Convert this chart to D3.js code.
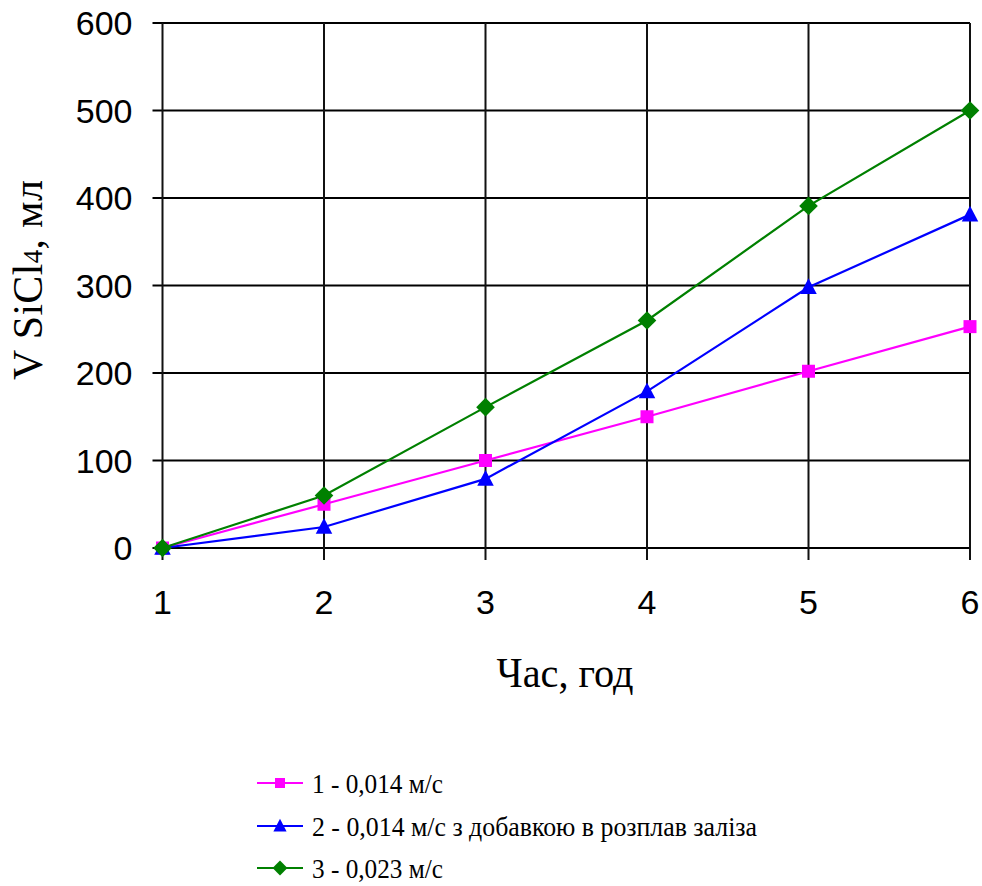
<!DOCTYPE html>
<html><head><meta charset="utf-8">
<script src="https://cdn.jsdelivr.net/npm/d3@7"></script>
<style>body{margin:0;background:#fff}svg{display:block}</style>
</head><body>
<script>
const hours = [1, 2, 3, 4, 5, 6];
const yTicks = [0, 100, 200, 300, 400, 500, 600];
const series1 = [0, 50, 100, 150, 202, 253];
const series2 = [0, 24, 79, 179, 298, 381];
const series3 = [0, 60, 161, 260, 391, 500];
const seriesNames = ["1 - 0,014 м/с", "2 - 0,014 м/с з добавкою в розплав заліза", "3 - 0,023 м/с"];
const seriesColors = ["#FF00FF", "#0000FF", "#008000"];
const seriesMarkers = ["square", "triangle", "diamond"];

const W = 982, H = 886;
const svg = d3.select("body").append("svg").attr("width", W).attr("height", H);
const x = d3.scaleLinear().domain([1, 6]).range([162.5, 970]);
const y = d3.scaleLinear().domain([0, 600]).range([548, 23]);

const g = svg.append("g");
// horizontal grid
g.selectAll(".hg").data(yTicks).enter().append("line")
  .attr("x1", x(1) - 10).attr("x2", x(6)).attr("y1", d => y(d)).attr("y2", d => y(d))
  .attr("stroke", "#000").attr("stroke-width", 2);
// vertical grid
g.selectAll(".vg").data(hours).enter().append("line")
  .attr("x1", d => x(d)).attr("x2", d => x(d)).attr("y1", y(600)).attr("y2", y(0) + 12)
  .attr("stroke", "#111").attr("stroke-width", 2);

// tick labels
g.selectAll(".yl").data(yTicks).enter().append("text")
  .attr("x", x(1) - 30).attr("y", d => y(d)).attr("dy", "0.36em")
  .attr("text-anchor", "end").attr("font-family", "Liberation Sans, Arial, sans-serif")
  .attr("font-size", 34).text(d => d);
g.selectAll(".xl").data(hours).enter().append("text")
  .attr("x", d => x(d)).attr("y", 614)
  .attr("text-anchor", "middle").attr("font-family", "Liberation Sans, Arial, sans-serif")
  .attr("font-size", 34).text(d => d);

// axis titles
svg.append("text").attr("x", 565).attr("y", 687).attr("text-anchor", "middle")
  .attr("font-family", "Liberation Serif, Times New Roman, serif").attr("font-size", 43)
  .attr("textLength", 137).attr("lengthAdjust", "spacingAndGlyphs")
  .text("Час, год");
const yt = svg.append("text").attr("transform", "translate(42,280) rotate(-90)")
  .attr("text-anchor", "middle")
  .attr("font-family", "Liberation Serif, Times New Roman, serif").attr("font-size", 42)
  .attr("textLength", 200).attr("lengthAdjust", "spacing");
yt.append("tspan").text("V SiCl");
yt.append("tspan").attr("font-size", 27).text("4");
yt.append("tspan").text(", мл");

// markers
function marker(sel, type, size, color) {
  const s = size;
  if (type === "square") {
    sel.append("rect").attr("x", -s/2).attr("y", -s/2).attr("width", s).attr("height", s).attr("fill", color);
  } else if (type === "triangle") {
    sel.append("path").attr("d", `M0,${-s*0.6}L${s*0.55},${s*0.45}L${-s*0.55},${s*0.45}Z`).attr("fill", color);
  } else {
    sel.append("path").attr("d", `M0,${-s*0.62}L${s*0.62},0L0,${s*0.62}L${-s*0.62},0Z`).attr("fill", color);
  }
}

const allSeries = [series1, series2, series3];
const line = d3.line().x((d, i) => x(hours[i])).y(d => y(d));
allSeries.forEach((vals, k) => {
  svg.append("path").datum(vals).attr("d", line).attr("fill", "none")
    .attr("stroke", seriesColors[k]).attr("stroke-width", 2.2);
});
allSeries.forEach((vals, k) => {
  svg.selectAll(".m" + k).data(vals).enter().append("g")
    .attr("transform", (d, i) => `translate(${x(hours[i])},${y(d)})`)
    .each(function() { marker(d3.select(this), seriesMarkers[k], k === 0 ? 13 : 15, seriesColors[k]); });
});

// legend
const legY = [783, 826, 868];
const legW = [131, 445, 131];
seriesNames.forEach((name, k) => {
  const lg = svg.append("g").attr("transform", `translate(0,${legY[k]})`);
  lg.append("line").attr("x1", 257).attr("x2", 303).attr("y1", 0).attr("y2", 0)
    .attr("stroke", seriesColors[k]).attr("stroke-width", 2.2);
  const m = lg.append("g").attr("transform", "translate(280,0)");
  marker(m, seriesMarkers[k], k === 0 ? 10 : 12, seriesColors[k]);
  lg.append("text").attr("x", 312).attr("y", 10)
    .attr("font-family", "Liberation Serif, Times New Roman, serif").attr("font-size", 28)
    .attr("textLength", legW[k]).attr("lengthAdjust", "spacingAndGlyphs")
    .text(name);
});
</script>
</body></html>
